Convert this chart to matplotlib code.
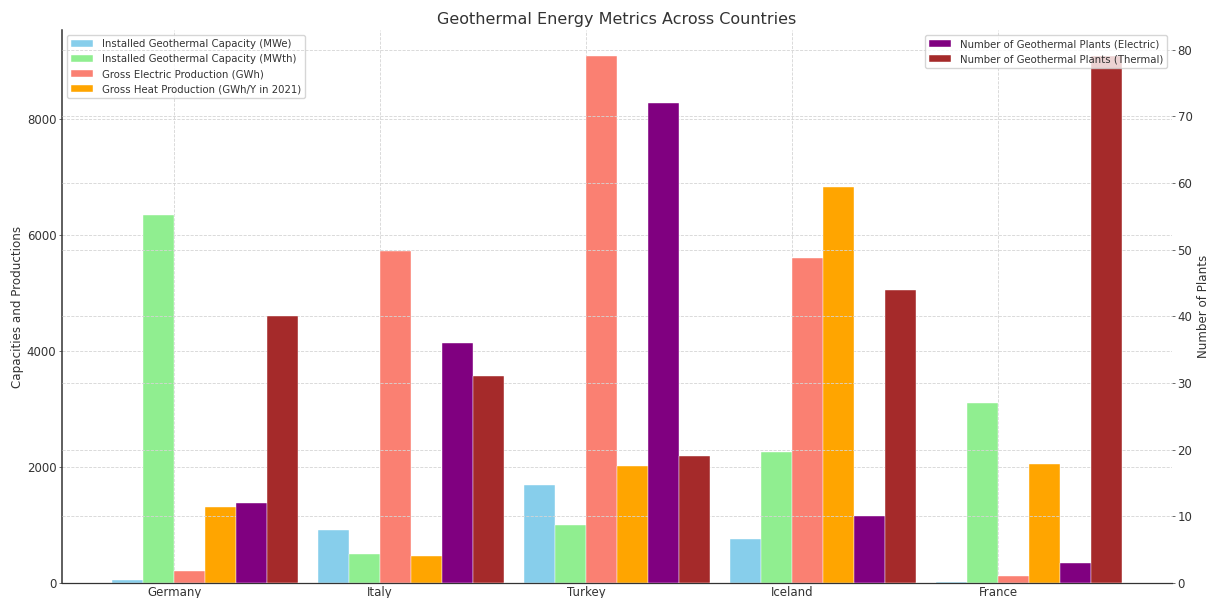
import matplotlib
matplotlib.use("Agg")
import matplotlib.pyplot as plt
import numpy as np

countries = ["Germany", "Italy", "Turkey", "Iceland", "France"]
cap_mwe = [50, 916, 1690, 755, 16]
cap_mwth = [6350, 500, 1000, 2250, 3110]
prod_gwh = [200, 5720, 9080, 5610, 120]
heat_gwh = [1310, 470, 2025, 6820, 2050]
plants_elec = [12, 36, 72, 10, 3]
plants_therm = [40, 31, 19, 44, 79]

plt.rcParams['font.family'] = 'DejaVu Sans'
txt = '#333333'
fig = plt.figure(figsize=(12.11, 5.98), dpi=100)
ax1 = fig.add_axes([0.0512, 0.0251, 0.9166, 0.9247])
ax2 = ax1.twinx()

x = np.arange(len(countries))
w = 0.15
ec = 'white'
lw = 0.3
ax1.bar(x - 1.5*w, cap_mwe, w, color='skyblue', label='Installed Geothermal Capacity (MWe)', edgecolor=ec, linewidth=lw)
ax1.bar(x - 0.5*w, cap_mwth, w, color='lightgreen', label='Installed Geothermal Capacity (MWth)', edgecolor=ec, linewidth=lw)
ax1.bar(x + 0.5*w, prod_gwh, w, color='salmon', label='Gross Electric Production (GWh)', edgecolor=ec, linewidth=lw)
ax1.bar(x + 1.5*w, heat_gwh, w, color='orange', label='Gross Heat Production (GWh/Y in 2021)', edgecolor=ec, linewidth=lw)
ax2.bar(x + 2.5*w, plants_elec, w, color='purple', label='Number of Geothermal Plants (Electric)', edgecolor=ec, linewidth=lw)
ax2.bar(x + 3.5*w, plants_therm, w, color='brown', label='Number of Geothermal Plants (Thermal)', edgecolor=ec, linewidth=lw)

ax1.set_xticks(x)
ax1.set_xticklabels(countries)
ax1.set_ylabel('Capacities and Productions', color=txt, fontsize=8.6, labelpad=2)
ax2.set_ylabel('Number of Plants', color=txt, fontsize=8.6, labelpad=3)
ax1.set_title('Geothermal Energy Metrics Across Countries', color=txt, fontsize=11.5, pad=4)

for ax in (ax1, ax2):
    ax.grid(True, linestyle='--', color='#d5d5d5', linewidth=0.6)
    ax.set_axisbelow(True)
    ax.tick_params(colors=txt, labelsize=8.5, length=2.5, width=0.5, pad=1.5)
    for s in ('top', 'right'):
        ax.spines[s].set_visible(False)
ax2.spines['left'].set_visible(False)
ax2.spines['bottom'].set_visible(False)
ax1.spines['left'].set_color('#333333')
ax1.spines['bottom'].set_color('#333333')
ax1.spines['left'].set_linewidth(1.1)
ax1.spines['bottom'].set_linewidth(0.9)
ax1.tick_params(axis='x', length=0, pad=2)
ax2.grid(axis='x', visible=False)

ax1.legend(loc='upper left', fontsize=7.3, framealpha=0.8, labelcolor=txt, handlelength=2.2)
ax2.legend(loc='upper right', fontsize=7.3, framealpha=0.8, labelcolor=txt, handlelength=2.2)

fig.savefig('out.png', dpi=100)
